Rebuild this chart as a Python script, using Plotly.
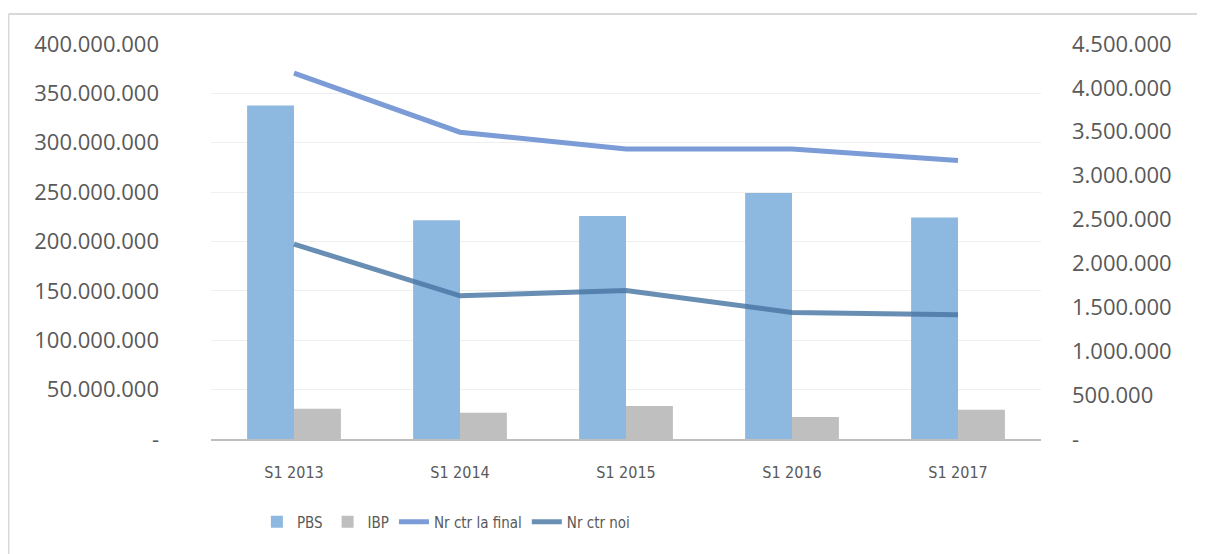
import plotly.graph_objects as go

categories = ["S1 2013", "S1 2014", "S1 2015", "S1 2016", "S1 2017"]
pbs = [337.6e6, 221.6e6, 225.7e6, 249.2e6, 224.2e6]
ibp = [30.7e6, 26.6e6, 33.4e6, 22.3e6, 29.6e6]
nr_final = [4.167e6, 3.495e6, 3.305e6, 3.303e6, 3.172e6]
nr_noi = [2.22e6, 1.631e6, 1.692e6, 1.441e6, 1.415e6]

left_vals = [0, 50e6, 100e6, 150e6, 200e6, 250e6, 300e6, 350e6, 400e6]
left_text = ["-", "50.000.000", "100.000.000", "150.000.000", "200.000.000",
             "250.000.000", "300.000.000", "350.000.000", "400.000.000"]
right_vals = [0, 0.5e6, 1e6, 1.5e6, 2e6, 2.5e6, 3e6, 3.5e6, 4e6, 4.5e6]
right_text = ["-", "500.000", "1.000.000", "1.500.000", "2.000.000", "2.500.000",
              "3.000.000", "3.500.000", "4.000.000", "4.500.000"]

# page has an 8px body margin, so the figure starts at (8, 8)
OFF = 8
W, H = 1205, 554
L, R, T, B = 211 - OFF, 172, 44 - OFF, 123
PW, PH = W - L - R, H - T - B

tick_font = dict(family="Open Sans", size=22, color="#595959")
narrow = "DejaVu Sans Condensed, Roboto Condensed, Roboto, sans-serif"
cat_font = dict(family=narrow, size=16, color="#595959")

fig = go.Figure()
fig.add_trace(go.Bar(x=categories, y=pbs, name="PBS", marker_color="#8DB8E0",
                     marker_line_width=0))
fig.add_trace(go.Bar(x=categories, y=ibp, name="IBP", marker_color="#BFBFBF",
                     marker_line_width=0))
fig.add_trace(go.Scatter(x=categories, y=nr_final, name="Nr ctr la final", yaxis="y2",
                         mode="lines", line=dict(color="rgb(116,151,212)", width=5),
                         opacity=0.95))
fig.add_trace(go.Scatter(x=categories, y=nr_noi, name="Nr ctr noi", yaxis="y2",
                         mode="lines", line=dict(color="rgb(72,118,164)", width=5),
                         opacity=0.82))

fx0 = (8.5 - OFF - L) / PW
fx1 = (W + 20 - L) / PW
fy_top = (H - B - (14 - OFF)) / PH
fy_bot = -(B + 20) / PH

fig.update_layout(
    width=W, height=H,
    margin=dict(l=L, r=R, t=T, b=B, autoexpand=False),
    paper_bgcolor="white", plot_bgcolor="white",
    barmode="group", bargap=0.435, bargroupgap=0,
    showlegend=True,
    legend=dict(orientation="h", x=0.283, xanchor="center", y=-0.21, yanchor="middle",
                font=dict(family=narrow, size=15, color="#595959"),
                itemwidth=30, tracegroupgap=0, bgcolor="rgba(0,0,0,0)"),
    xaxis=dict(showgrid=False, showline=True, linecolor="#BFBFBF", linewidth=2,
               tickfont=cat_font, ticks="", ticklabelstandoff=18, automargin=False),
    yaxis=dict(range=[0, 400e6], tickvals=left_vals, ticktext=left_text,
               showgrid=True, gridcolor="#EFEFEF", gridwidth=1, zeroline=False,
               showline=False, tickfont=tick_font, ticks="", ticklabelstandoff=51,
               automargin=False),
    yaxis2=dict(range=[0, 4.5e6], tickvals=right_vals, ticktext=right_text,
                overlaying="y", side="right", showgrid=False, zeroline=False,
                showline=False, tickfont=tick_font, ticks="", ticklabelstandoff=30,
                automargin=False),
    shapes=[
        dict(type="line", xref="paper", yref="paper",
             x0=fx0, x1=fx1, y0=fy_top, y1=fy_top,
             line=dict(color="#D9D9D9", width=2)),
        dict(type="line", xref="paper", yref="paper",
             x0=fx0, x1=fx0, y0=fy_top, y1=fy_bot,
             line=dict(color="#D9D9D9", width=2)),
    ],
)

fig.write_html("out.html")
